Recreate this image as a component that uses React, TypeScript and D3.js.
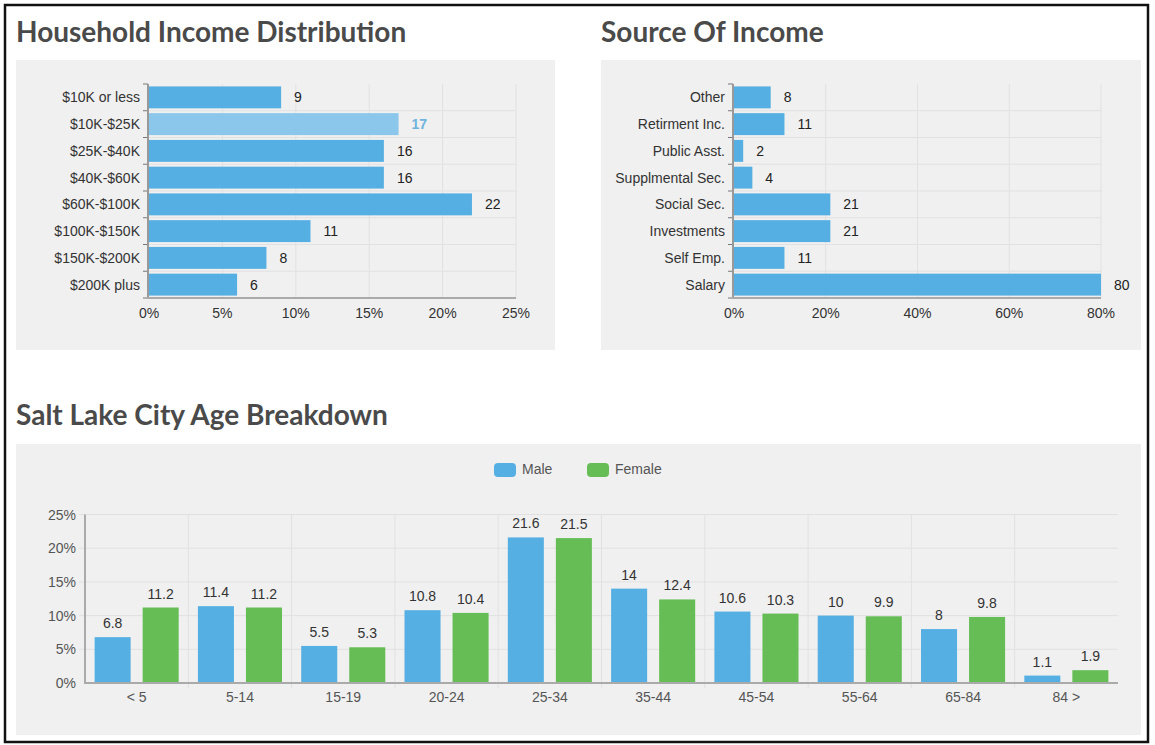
import { useEffect, useRef } from "react";
import * as d3 from "d3";

const INCOME_CATS = [
  "$10K or less",
  "$10K-$25K",
  "$25K-$40K",
  "$40K-$60K",
  "$60K-$100K",
  "$100K-$150K",
  "$150K-$200K",
  "$200K plus",
];
const INCOME_VALUES = [9, 17, 16, 16, 22, 11, 8, 6];
const INCOME_TICKS = [0, 5, 10, 15, 20, 25];
const INCOME_HIGHLIGHT = "$10K-$25K";

const SOURCE_CATS = [
  "Other",
  "Retirment Inc.",
  "Public Asst.",
  "Supplmental Sec.",
  "Social Sec.",
  "Investments",
  "Self Emp.",
  "Salary",
];
const SOURCE_VALUES = [8, 11, 2, 4, 21, 21, 11, 80];
const SOURCE_TICKS = [0, 20, 40, 60, 80];

const AGE_CATS = ["< 5", "5-14", "15-19", "20-24", "25-34", "35-44", "45-54", "55-64", "65-84", "84 >"];
const MALE_VALUES = [6.8, 11.4, 5.5, 10.8, 21.6, 14, 10.6, 10, 8, 1.1];
const FEMALE_VALUES = [11.2, 11.2, 5.3, 10.4, 21.5, 12.4, 10.3, 9.9, 9.8, 1.9];
const AGE_SERIES = ["Male", "Female"];
const AGE_TICKS = [0, 5, 10, 15, 20, 25];

const BLUE = "#56afe2";
const BLUE_LIGHT = "#8bc7ea";
const GREEN = "#66bd55";
const PANEL = "#f0f0f0";
const GRID = "#e1e1e1";
const FONT = "'Liberation Sans', Arial, sans-serif";
const TITLE_FONT = "Lato, 'Open Sans', sans-serif";

type Sel = d3.Selection<SVGSVGElement, unknown, null, undefined>;

// Horizontal bar chart with category axis on the left
function drawHBar(
  svg: Sel,
  cats: string[],
  values: number[],
  ticks: number[],
  xRange: [number, number],
  yRange: [number, number],
  highlight?: string
) {
  const x = d3.scaleLinear().domain([ticks[0], ticks[ticks.length - 1]]).range(xRange);
  const y = d3.scaleBand<string>().domain(cats).range(yRange).paddingInner(0.18).paddingOuter(0.09);
  const g = svg.append("g");
  const [y0, y1] = yRange;

  // vertical grid
  g.selectAll("line.vg")
    .data(ticks.slice(1))
    .join("line")
    .attr("x1", (d) => x(d))
    .attr("x2", (d) => x(d))
    .attr("y1", y0)
    .attr("y2", y1)
    .attr("stroke", GRID)
    .attr("stroke-width", 1);

  // row separators
  const step = y.step();
  const bounds = cats.slice(1).map((c) => y(c)! - (step - y.bandwidth()) / 2);
  g.selectAll("line.hg")
    .data(bounds)
    .join("line")
    .attr("x1", xRange[0])
    .attr("x2", xRange[1])
    .attr("y1", (d) => d)
    .attr("y2", (d) => d)
    .attr("stroke", GRID)
    .attr("stroke-width", 1);

  // left axis ticks at boundaries
  g.selectAll("line.lt")
    .data([y0, ...bounds, y1])
    .join("line")
    .attr("x1", xRange[0] - 6)
    .attr("x2", xRange[0] - 1)
    .attr("y1", (d) => d)
    .attr("y2", (d) => d)
    .attr("stroke", "#777")
    .attr("stroke-width", 1);

  // bars
  g.selectAll("rect")
    .data(cats)
    .join("rect")
    .attr("x", xRange[0])
    .attr("y", (d) => y(d)!)
    .attr("width", (_, i) => x(values[i]) - xRange[0])
    .attr("height", y.bandwidth())
    .attr("fill", (d) => (d === highlight ? BLUE_LIGHT : BLUE));

  // axes lines
  g.append("line")
    .attr("x1", xRange[0] - 1)
    .attr("x2", xRange[0] - 1)
    .attr("y1", y0)
    .attr("y2", y1 + 1)
    .attr("stroke", "#999")
    .attr("stroke-width", 2);
  g.append("line")
    .attr("x1", xRange[0] - 2)
    .attr("x2", xRange[1])
    .attr("y1", y1)
    .attr("y2", y1)
    .attr("stroke", "#aaa")
    .attr("stroke-width", 2);

  // category labels
  g.selectAll("text.cat")
    .data(cats)
    .join("text")
    .attr("x", xRange[0] - 9)
    .attr("y", (d) => y(d)! + y.bandwidth() / 2 + 5)
    .attr("text-anchor", "end")
    .attr("fill", "#333")
    .attr("font-size", "14px")
    .attr("font-family", FONT)
    .text((d) => d);

  // value labels
  g.selectAll("text.val")
    .data(cats)
    .join("text")
    .attr("x", (_, i) => x(values[i]) + 13)
    .attr("y", (d) => y(d)! + y.bandwidth() / 2 + 5)
    .attr("fill", (d) => (d === highlight ? "#6fb3df" : "#222"))
    .attr("font-weight", (d) => (d === highlight ? "bold" : "normal"))
    .attr("font-size", "14px")
    .attr("font-family", FONT)
    .text((_, i) => values[i]);

  // x tick labels
  g.selectAll("text.tick")
    .data(ticks)
    .join("text")
    .attr("x", (d) => x(d))
    .attr("y", y1 + 20)
    .attr("text-anchor", "middle")
    .attr("fill", "#333")
    .attr("font-size", "14px")
    .attr("font-family", FONT)
    .text((d) => `${d}%`);
}

function drawAge(svg: Sel) {
  const x = d3.scaleBand<string>().domain(AGE_CATS).range([85, 1118]);
  const bw = x.bandwidth();
  const inner = d3.scaleBand<string>().domain(AGE_SERIES).range([0, bw]).paddingInner(0.25).paddingOuter(0.2);
  const y = d3.scaleLinear().domain([0, 25]).range([683, 514.5]);
  const g = svg.append("g");

  // horizontal grid
  g.selectAll("line.hg")
    .data(AGE_TICKS.slice(1))
    .join("line")
    .attr("x1", 79)
    .attr("x2", 1118)
    .attr("y1", (d) => y(d))
    .attr("y2", (d) => y(d))
    .attr("stroke", GRID);

  // vertical grid at group boundaries
  g.selectAll("line.vg")
    .data(AGE_CATS.slice(1))
    .join("line")
    .attr("x1", (d) => x(d)!)
    .attr("x2", (d) => x(d)!)
    .attr("y1", y(25))
    .attr("y2", y(0) + 5)
    .attr("stroke", GRID);

  const rows = AGE_CATS.map((c, i) => ({ c, vals: [MALE_VALUES[i], FEMALE_VALUES[i]] }));
  const groups = g
    .selectAll("g.grp")
    .data(rows)
    .join("g")
    .attr("transform", (d) => `translate(${x(d.c)},0)`);

  groups
    .selectAll("rect")
    .data((d) => d.vals.map((v, k) => ({ s: AGE_SERIES[k], v })))
    .join("rect")
    .attr("x", (d) => inner(d.s)!)
    .attr("y", (d) => y(d.v))
    .attr("width", inner.bandwidth())
    .attr("height", (d) => y(0) - y(d.v))
    .attr("fill", (d) => (d.s === "Male" ? BLUE : GREEN));

  groups
    .selectAll("text")
    .data((d) => d.vals.map((v, k) => ({ s: AGE_SERIES[k], v })))
    .join("text")
    .attr("x", (d) => inner(d.s)! + inner.bandwidth() / 2)
    .attr("y", (d) => y(d.v) - 9)
    .attr("text-anchor", "middle")
    .attr("fill", "#333")
    .attr("font-size", "14px")
    .attr("font-family", FONT)
    .text((d) => d.v);

  // axes
  g.append("line").attr("x1", 85).attr("x2", 85).attr("y1", y(25)).attr("y2", y(0)).attr("stroke", "#aaa").attr("stroke-width", 2);
  g.append("line").attr("x1", 84).attr("x2", 1118).attr("y1", y(0)).attr("y2", y(0)).attr("stroke", "#aaa").attr("stroke-width", 2);

  g.selectAll("text.yt")
    .data(AGE_TICKS)
    .join("text")
    .attr("x", 76)
    .attr("y", (d) => y(d) + 5)
    .attr("text-anchor", "end")
    .attr("fill", "#555")
    .attr("font-size", "14px")
    .attr("font-family", FONT)
    .text((d) => `${d}%`);

  g.selectAll("text.xt")
    .data(AGE_CATS)
    .join("text")
    .attr("x", (d) => x(d)! + bw / 2)
    .attr("y", y(0) + 19)
    .attr("text-anchor", "middle")
    .attr("fill", "#555")
    .attr("font-size", "14px")
    .attr("font-family", FONT)
    .text((d) => d);

  // legend
  const legendX = [494, 587];
  AGE_SERIES.forEach((s, k) => {
    g.append("rect")
      .attr("x", legendX[k])
      .attr("y", 463)
      .attr("width", 22)
      .attr("height", 14)
      .attr("rx", 4)
      .attr("fill", k === 0 ? BLUE : GREEN);
    g.append("text")
      .attr("x", legendX[k] + 28)
      .attr("y", 474)
      .attr("fill", "#555")
      .attr("font-size", "14px")
      .attr("font-family", FONT)
      .text(s);
  });
}

export default function App() {
  const svgRef = useRef<SVGSVGElement>(null);

  useEffect(() => {
    if (!svgRef.current) return;
    const svg = d3.select(svgRef.current);
    svg.selectAll("*").remove();

    svg.append("rect").attr("width", 1155).attr("height", 745).attr("fill", "#fff");

    // panels
    const panels = [
      [16, 60, 539, 290],
      [601, 60, 540, 290],
      [16, 444, 1125, 291],
    ];
    svg
      .selectAll("rect.panel")
      .data(panels)
      .join("rect")
      .attr("x", (d) => d[0])
      .attr("y", (d) => d[1])
      .attr("width", (d) => d[2])
      .attr("height", (d) => d[3])
      .attr("fill", PANEL);

    // titles
    const titles: [string, number, number][] = [
      ["Household Income Distribution", 16, 42],
      ["Source Of Income", 601, 42],
      ["Salt Lake City Age Breakdown", 16, 425],
    ];
    svg
      .selectAll("text.title")
      .data(titles)
      .join("text")
      .attr("x", (d) => d[1])
      .attr("y", (d) => d[2])
      .attr("fill", "#4a4a4a")
      .attr("font-size", "28px")
      .attr("font-weight", "bold")
      .attr("font-family", TITLE_FONT)
      .text((d) => d[0]);

    drawHBar(svg, INCOME_CATS, INCOME_VALUES, INCOME_TICKS, [149, 516], [84, 298], INCOME_HIGHLIGHT);
    drawHBar(svg, SOURCE_CATS, SOURCE_VALUES, SOURCE_TICKS, [734, 1101], [84, 298]);
    drawAge(svg);

    // outer frame
    svg
      .append("rect")
      .attr("x", 5)
      .attr("y", 5)
      .attr("width", 1143)
      .attr("height", 737)
      .attr("fill", "none")
      .attr("stroke", "#111")
      .attr("stroke-width", 2.5);
  }, []);

  return (
    <svg
      ref={svgRef}
      width={1155}
      height={745}
      style={{ position: "absolute", left: 0, top: 0, display: "block" }}
    />
  );
}
